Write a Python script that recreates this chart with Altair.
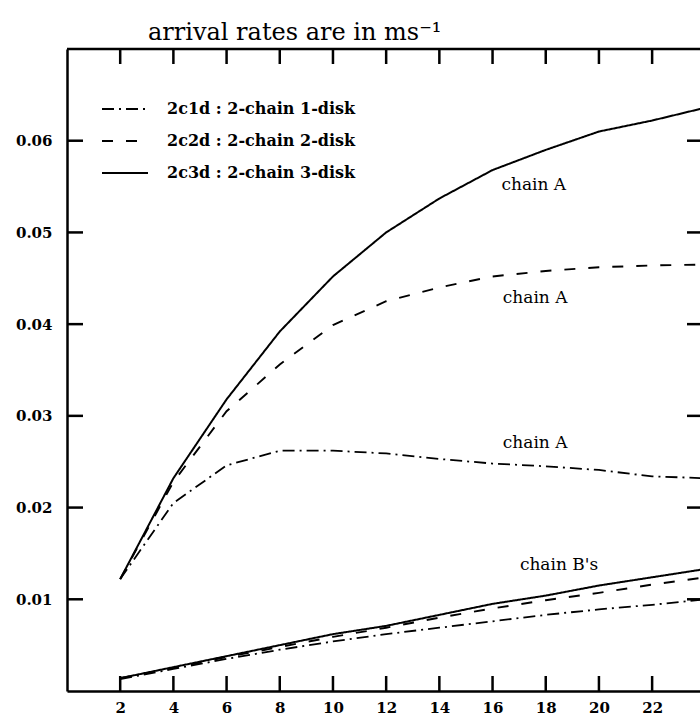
import altair as alt
import pandas as pd

# ---- data ----
x_n = [2, 4, 6, 8, 10, 12, 14, 16, 18, 20, 22, 24]
chainA_2c1d = [0.0122, 0.0205, 0.0246, 0.0262, 0.0262, 0.0259, 0.0253, 0.0248, 0.0245, 0.0241, 0.0234, 0.0232]
chainA_2c2d = [0.0122, 0.0228, 0.0305, 0.0356, 0.0399, 0.0425, 0.0440, 0.0452, 0.0458, 0.0462, 0.0464, 0.0465]
chainA_2c3d = [0.0122, 0.0232, 0.0318, 0.0392, 0.0452, 0.0500, 0.0537, 0.0568, 0.0590, 0.0610, 0.0622, 0.0636]
chainB_2c1d = [0.0013, 0.0024, 0.0035, 0.0045, 0.0054, 0.0062, 0.0069, 0.0076, 0.0083, 0.0089, 0.0094, 0.0100]
chainB_2c2d = [0.0014, 0.0025, 0.0037, 0.0048, 0.0059, 0.0069, 0.0080, 0.0090, 0.0099, 0.0107, 0.0116, 0.0124]
chainB_2c3d = [0.0014, 0.0026, 0.0038, 0.0050, 0.0062, 0.0071, 0.0083, 0.0095, 0.0104, 0.0115, 0.0124, 0.0133]

series_names = ["2c1d : 2-chain 1-disk", "2c2d : 2-chain 2-disk", "2c3d : 2-chain 3-disk"]

x_ticks = [2, 4, 6, 8, 10, 12, 14, 16, 18, 20, 22]
y_ticks = [0.01, 0.02, 0.03, 0.04, 0.05, 0.06]

label_text = ["chain A", "chain A", "chain A", "chain B's"]
label_x = [17.55, 17.6, 17.6, 18.5]
label_y = [0.0552, 0.0429, 0.0270, 0.0137]

title_text = "arrival rates are in ms\u207b\u00b9"

# ---- build table ----
rows = []
for name, chain, vals in [
    (series_names[0], "A", chainA_2c1d),
    (series_names[1], "A", chainA_2c2d),
    (series_names[2], "A", chainA_2c3d),
    (series_names[0], "B", chainB_2c1d),
    (series_names[1], "B", chainB_2c2d),
    (series_names[2], "B", chainB_2c3d),
]:
    for xv, yv in zip(x_n, vals):
        rows.append({"n": xv, "rate": yv, "series": name, "curve": name + chain})
df = pd.DataFrame(rows)

W, H = 633, 642
xs = alt.Scale(domain=[0, 23.8], nice=False, zero=False)
ys = alt.Scale(domain=[0, 0.07], nice=False, zero=False)

TICK_FONT = "DejaVu Serif"

legend = alt.Legend(
    title=None, orient="none", legendX=34, legendY=36,
    symbolType="stroke", symbolSize=2116, symbolStrokeColor="black",
    labelFont="DejaVu Serif", labelFontWeight="bold", labelFontSize=16,
    labelColor="black", labelOffset=18, rowPadding=0, labelLimit=400,
)

lines = alt.Chart(df).mark_line(clip=True, color="black", strokeCap="butt").encode(
    x=alt.X("n:Q", scale=xs, title=None,
            axis=alt.Axis(values=x_ticks, ticks=False, grid=False, domainWidth=2.5,
                          domainColor="black", labelFont=TICK_FONT, labelFontWeight="bold",
                          labelFontSize=15, labelColor="black", labelPadding=9,
                          labelBaseline="top")),
    y=alt.Y("rate:Q", scale=ys, title=None,
            axis=alt.Axis(values=y_ticks, format=".2f", ticks=False, grid=False,
                          domainWidth=2.5, domainColor="black", labelFont=TICK_FONT,
                          labelFontWeight="bold", labelFontSize=15, labelColor="black",
                          labelPadding=15)),
    strokeDash=alt.StrokeDash("series:N", scale=alt.Scale(domain=series_names,
                              range=[[12, 5, 2, 5], [11, 13], [1, 0]]), legend=legend),
    strokeWidth=alt.StrokeWidth("series:N", scale=alt.Scale(domain=series_names,
                                range=[1.8, 2.0, 3.2]), legend=legend),
    detail="curve:N",
)

labels_df = pd.DataFrame({"n": label_x, "rate": label_y, "txt": label_text})
labels = alt.Chart(labels_df).mark_text(
    font="DejaVu Serif", fontSize=17, color="black", align="center", baseline="middle"
).encode(x=alt.X("n:Q", scale=xs, title=None), y=alt.Y("rate:Q", scale=ys, title=None), text="txt:N")

xt_df = pd.DataFrame({"n": x_ticks})
yt_df = pd.DataFrame({"rate": y_ticks})

bottom_ticks = alt.Chart(xt_df).mark_rule(color="black", strokeWidth=2.5).encode(
    x=alt.X("n:Q", scale=xs, title=None), y=alt.value(H), y2=alt.value(H - 15))
top_ticks = alt.Chart(xt_df).mark_rule(color="black", strokeWidth=2.5).encode(
    x=alt.X("n:Q", scale=xs, title=None), y=alt.value(0), y2=alt.value(15))
left_ticks = alt.Chart(yt_df).mark_rule(color="black", strokeWidth=2.5).encode(
    y=alt.Y("rate:Q", scale=ys, title=None), x=alt.value(0), x2=alt.value(16))
right_ticks = alt.Chart(yt_df).mark_rule(color="black", strokeWidth=2.5).encode(
    y=alt.Y("rate:Q", scale=ys, title=None), x=alt.value(W - 13), x2=alt.value(W + 5))
top_line = alt.Chart(alt.Data(values=[{"a": 1}])).mark_rule(color="black", strokeWidth=2.5).encode(
    x=alt.value(0), x2=alt.value(W), y=alt.value(0))

chart = alt.layer(
    lines, labels, bottom_ticks, top_ticks, left_ticks, right_ticks, top_line
).properties(
    width=W, height=H,
    title=alt.TitleParams(title_text, anchor="start", frame="group", dx=81, dy=24, offset=8,
                          font="DejaVu Serif", fontSize=24, fontWeight="normal",
                          baseline="alphabetic", color="black"),
    padding={"left": 67, "top": 49, "right": 0, "bottom": 25},
    autosize=alt.AutoSizeParams(type="none"),
).configure_view(stroke=None).configure(background="white")

chart.save("out.html", embed_options={"renderer": "svg", "actions": False})
